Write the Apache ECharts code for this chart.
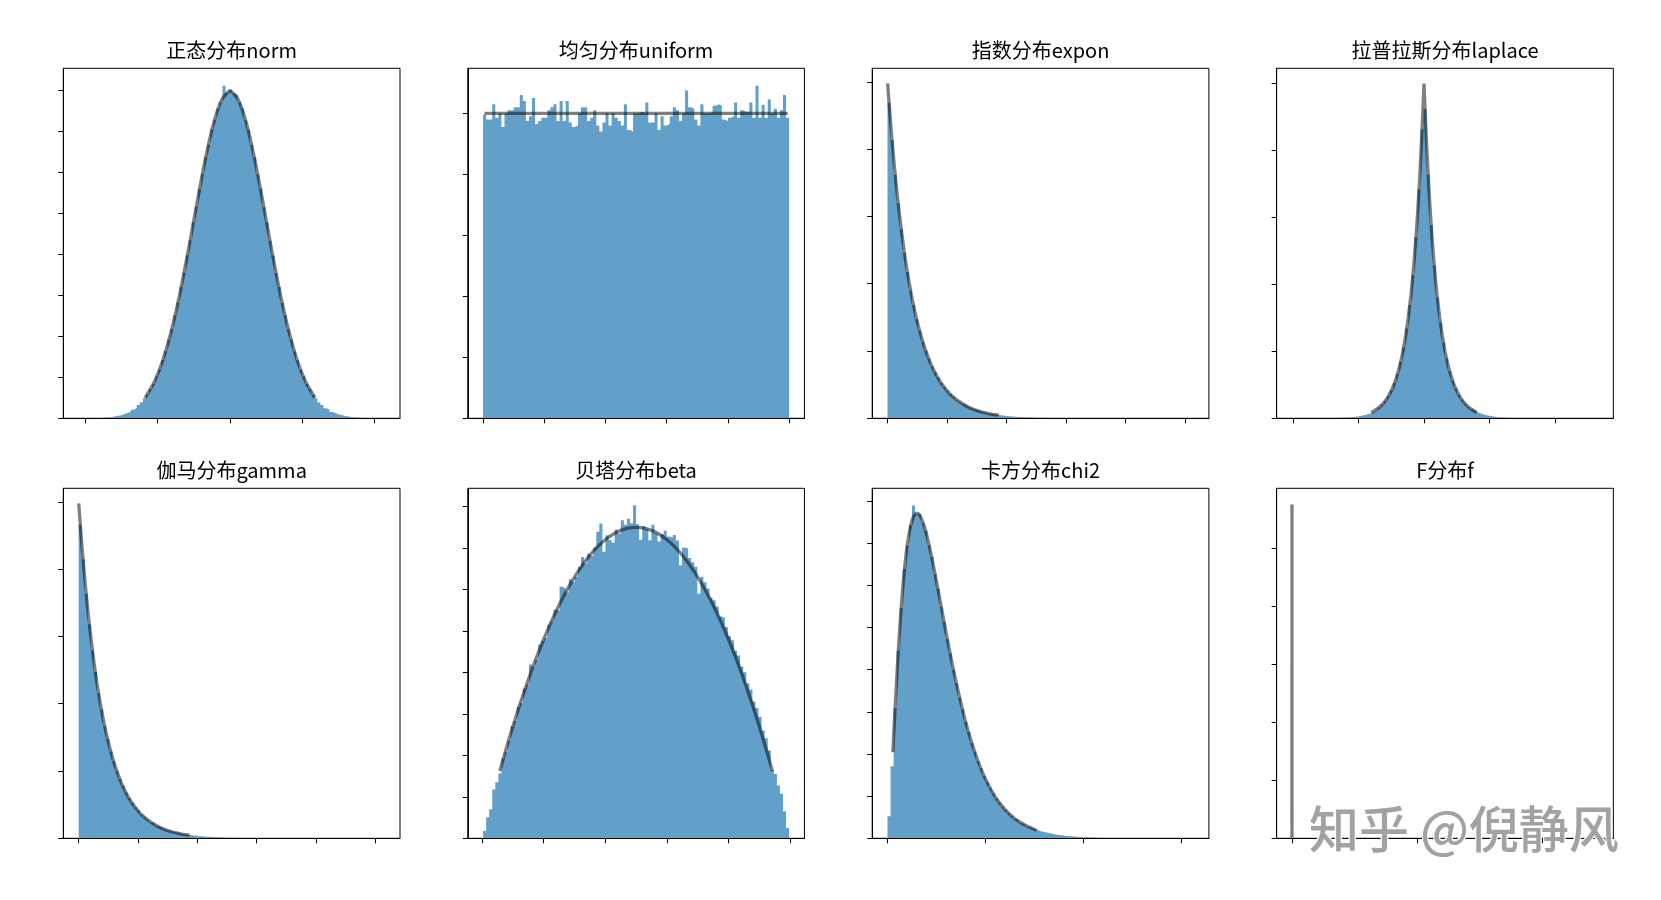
<!DOCTYPE html>
<html><head><meta charset="utf-8">
<script src="https://cdn.jsdelivr.net/npm/echarts@6.0.0/dist/echarts.min.js"></script>
<style>html,body{margin:0;padding:0;background:#fff}#chart{width:1661px;height:900px}</style>
</head><body><div id="chart"></div>
<script>
const titles = ['正态分布norm','均匀分布uniform','指数分布expon','拉普拉斯分布laplace','伽马分布gamma','贝塔分布beta','卡方分布chi2','F分布f'];
const watermark = '知乎 @倪静风';

// ---- 正态分布 norm ----
const normRange = [-4.19, 4.28];
const normXLim = [-4.6135, 4.7035];
const normYMax = 0.4268;
const normXTicks = [-4, -2, 0, 2, 4];
const normYTicks = [0, 0.05, 0.1, 0.15, 0.2, 0.25, 0.3, 0.35, 0.4];
const normHist = [
 0.0001,0.0001,0.0002,0.0002,0.0003,0.0004,0.0005,0.0007,0.001,0.0014,
 0.0017,0.0024,0.003,0.0038,0.0052,0.0064,0.0079,0.0105,0.0127,0.0161,
 0.0195,0.0244,0.0291,0.0358,0.0421,0.0511,0.0598,0.0712,0.0818,0.0958,
 0.1088,0.1258,0.1412,0.1601,0.1776,0.1987,0.2171,0.2392,0.2580,0.2797,
 0.2978,0.3185,0.3336,0.3521,0.3641,0.3779,0.3852,0.4055,0.3968,0.4012,
 0.3962,0.3945,0.3851,0.3779,0.3634,0.3518,0.3337,0.3182,0.2972,0.2798,
 0.2573,0.2391,0.2166,0.1985,0.1772,0.1601,0.1405,0.1258,0.1086,0.0960,
 0.0815,0.0709,0.0593,0.0511,0.0419,0.0357,0.0288,0.0244,0.0192,0.0162,
 0.0124,0.0103,0.0078,0.0065,0.0047,0.0039,0.0028,0.0024,0.0016,0.0013,
 0.0009,0.0008,0.0005,0.0004,0.0003,0.0002,0.0001,0.0001,0.0001,0.0001];
const normLineX = [-2.326,-2.093,-1.861,-1.628,-1.396,-1.163,-0.930,-0.698,-0.465,-0.233,0,0.233,0.465,0.698,0.930,1.163,1.396,1.628,1.861,2.093,2.326];
const normLineY = [0.0267,0.0446,0.0706,0.1060,0.1506,0.2028,0.2589,0.3127,0.3580,0.3882,0.3989,0.3882,0.3580,0.3127,0.2589,0.2028,0.1506,0.1060,0.0706,0.0446,0.0267];

// ---- 均匀分布 uniform ----
const unifRange = [0, 1];
const unifXLim = [-0.05, 1.05];
const unifYMax = 1.1475;
const unifXTicks = [0, 0.2, 0.4, 0.6, 0.8, 1.0];
const unifYTicks = [0, 0.2, 0.4, 0.6, 0.8, 1.0];
const unifHist = [
 0.995,0.98,0.98,1.03,0.985,1.0,0.955,1.0,1.01,1.01,
 1.02,1.02,1.06,1.04,0.975,0.99,1.05,0.965,0.975,0.985,
 0.985,1.01,1.02,1.03,0.975,1.04,0.975,1.04,0.97,0.955,
 0.96,1.0,1.02,1.02,0.975,0.985,1.01,0.96,0.94,0.97,
 1.0,0.96,1.0,0.985,0.975,0.96,1.03,0.945,0.94,1.0,
 1.0,1.005,1.0,1.035,0.97,0.97,1.0,0.945,0.99,0.96,
 0.965,0.99,1.02,1.01,0.975,1.0,1.075,1.02,1.015,0.98,
 0.96,1.03,1.0,1.0,1.005,1.025,1.03,1.025,0.98,0.975,
 0.985,0.99,1.035,0.985,1.01,1.005,1.005,1.035,0.985,1.09,
 0.985,1.028,0.985,1.045,1.0,1.015,0.985,1.01,1.06,0.985];
const unifLineX = [0.01, 0.99];
const unifLineY = [1.0, 1.0];

// ---- 指数分布 expon ----
const exponRange = [0, 12.85];
const exponXLim = [-0.6425, 13.4925];
const exponYMax = 1.04;
const exponXTicks = [0, 2.5, 5, 7.5, 10, 12.5];
const exponYTicks = [0, 0.2, 0.4, 0.6, 0.8, 1.0];
const exponHist = [
 0.938,0.826,0.724,0.639,0.562,0.492,0.435,0.380,0.336,0.294,
 0.260,0.227,0.201,0.177,0.154,0.137,0.121,0.105,0.093,0.082,
 0.072,0.064,0.055,0.049,0.043,0.038,0.033,0.029,0.026,0.023,
 0.020,0.0176,0.0153,0.0136,0.0118,0.0106,0.0091,0.0082,0.0070,0.0063,
 0.0055,0.0049,0.0042,0.0038,0.0034,0.0029,0.0025,0.0022,0.0020,0.0017,
 0.0015,0.0013,0.0012,0.0010,0.0009,0.0008,0.0007,0.0006,0.0006,0.0005,
 0.0004,0.0004,0.0003,0.0003,0.0003,0.0002,0.0002,0.0002,0.0001,0.0001,
 0.0001,0.0001,0.0001,0.0001,0,0.0001,0,0.0001,0,0,
 0,0,0.0001,0,0,0,0,0,0,0,
 0,0,0,0,0,0,0,0,0,0.0001];
const exponLineX = [0.01,0.1,0.2,0.3,0.4,0.5,0.6,0.7,0.8,0.9,1.0,1.1,1.2,1.3,1.4,1.5,1.65,1.8,1.95,2.1,2.25,2.4,2.55,2.7,2.85,3.0,3.2,3.4,3.6,3.8,4.0,4.2,4.4,4.605];
const exponLineY = [0.990,0.905,0.819,0.741,0.670,0.607,0.549,0.497,0.449,0.407,0.368,0.333,0.301,0.273,0.247,0.223,0.192,0.165,0.142,0.122,0.105,0.091,0.078,0.067,0.058,0.050,0.041,0.033,0.027,0.022,0.018,0.015,0.012,0.010];

// ---- 拉普拉斯分布 laplace ----
const lapRange = [-10.09, 13.3];
const lapXLim = [-11.259, 14.469];
const lapYMax = 0.5228;
const lapXTicks = [-10, -5, 0, 5, 10];
const lapYTicks = [0, 0.1, 0.2, 0.3, 0.4, 0.5];
const lapHist = [
 0.0001,0,0.0001,0,0.0001,0.0001,0.0001,0.0001,0.0002,0.0002,
 0.0003,0.0003,0.0004,0.0005,0.0006,0.0008,0.0010,0.0012,0.0016,0.0020,
 0.0025,0.0032,0.0040,0.0051,0.0064,0.0081,0.0102,0.0129,0.0163,0.0206,
 0.0261,0.0329,0.0416,0.0526,0.0665,0.0840,0.1061,0.1341,0.1694,0.2141,
 0.2705,0.3418,0.4319,0.4620,0.3643,0.2883,0.2282,0.1806,0.1429,0.1131,
 0.0895,0.0708,0.0561,0.0444,0.0351,0.0278,0.0220,0.0174,0.0138,0.0109,
 0.0086,0.0068,0.0054,0.0043,0.0034,0.0027,0.0021,0.0017,0.0013,0.0011,
 0.0008,0.0007,0.0005,0.0004,0.0003,0.0003,0.0002,0.0002,0.0001,0.0001,
 0.0001,0.0001,0,0.0001,0,0,0.0001,0,0,0,
 0,0,0,0,0,0,0,0,0,0.0001];
const lapLineX = [-3.912,-3.5,-3.25,-3.0,-2.75,-2.5,-2.25,-2.0,-1.8,-1.6,-1.4,-1.2,-1.0,-0.9,-0.75,-0.6,-0.5,-0.4,-0.3,-0.2,-0.1,0,0.1,0.2,0.3,0.4,0.5,0.6,0.75,0.9,1.0,1.2,1.4,1.6,1.8,2.0,2.25,2.5,2.75,3.0,3.25,3.5,3.912];
const lapLineY = [0.0100,0.0151,0.0194,0.0249,0.0320,0.0410,0.0527,0.0677,0.0826,0.1009,0.1233,0.1506,0.1839,0.2033,0.2362,0.2744,0.3033,0.3352,0.3704,0.4094,0.4524,0.5,0.4524,0.4094,0.3704,0.3352,0.3033,0.2744,0.2362,0.2033,0.1839,0.1506,0.1233,0.1009,0.0826,0.0677,0.0527,0.0410,0.0320,0.0249,0.0194,0.0151,0.0100];

// ---- 伽马分布 gamma ----
const gamRange = [0, 12.9];
const gamXLim = [-0.645, 13.545];
const gamYMax = 1.04;
const gamXTicks = [0, 2.5, 5, 7.5, 10, 12.5];
const gamYTicks = [0, 0.2, 0.4, 0.6, 0.8, 1.0];
const gamHist = [
 0.932,0.829,0.727,0.636,0.559,0.495,0.432,0.383,0.334,0.296,
 0.258,0.229,0.200,0.176,0.156,0.136,0.120,0.106,0.092,0.083,
 0.071,0.063,0.056,0.048,0.043,0.037,0.034,0.029,0.025,0.023,
 0.0198,0.0177,0.0155,0.0134,0.0120,0.0104,0.0093,0.0080,0.0072,0.0062,
 0.0056,0.0048,0.0043,0.0037,0.0033,0.0030,0.0026,0.0023,0.0019,0.0017,
 0.0015,0.0014,0.0011,0.0010,0.0009,0.0008,0.0007,0.0006,0.0005,0.0005,
 0.0004,0.0004,0.0003,0.0003,0.0002,0.0002,0.0002,0.0001,0.0002,0.0001,
 0.0001,0.0001,0,0.0001,0.0001,0,0,0,0.0001,0,
 0,0,0,0,0,0.0001,0,0,0,0,
 0,0,0,0,0,0,0,0,0,0.0001];
const gamLineX = [0.01,0.1,0.2,0.3,0.4,0.5,0.6,0.7,0.8,0.9,1.0,1.1,1.2,1.3,1.4,1.5,1.65,1.8,1.95,2.1,2.25,2.4,2.55,2.7,2.85,3.0,3.2,3.4,3.6,3.8,4.0,4.2,4.4,4.605];
const gamLineY = [0.990,0.905,0.819,0.741,0.670,0.607,0.549,0.497,0.449,0.407,0.368,0.333,0.301,0.273,0.247,0.223,0.192,0.165,0.142,0.122,0.105,0.091,0.078,0.067,0.058,0.050,0.041,0.033,0.027,0.022,0.018,0.015,0.012,0.010];

// ---- 贝塔分布 beta ----
const betaRange = [0.003, 0.997];
const betaXLim = [-0.0467, 1.0467];
const betaYMax = 1.688;
const betaXTicks = [0, 0.2, 0.4, 0.6, 0.8, 1.0];
const betaYTicks = [0, 0.2, 0.4, 0.6, 0.8, 1.0, 1.2, 1.4, 1.6];
const betaHist = [
 0.035,0.102,0.140,0.235,0.270,0.312,0.385,0.418,0.470,0.541,
 0.566,0.634,0.652,0.722,0.741,0.838,0.826,0.861,0.935,0.951,
 0.966,1.031,1.045,1.102,1.098,1.213,1.205,1.185,1.248,1.236,
 1.262,1.310,1.357,1.325,1.372,1.361,1.404,1.478,1.518,1.382,
 1.462,1.439,1.425,1.488,1.470,1.534,1.512,1.541,1.520,1.606,
 1.515,1.440,1.506,1.492,1.438,1.512,1.470,1.432,1.468,1.483,
 1.455,1.452,1.463,1.436,1.317,1.402,1.398,1.352,1.331,1.310,
 1.180,1.262,1.235,1.205,1.160,1.148,1.118,1.070,1.062,1.019,
 0.975,0.955,0.905,0.882,0.829,0.801,0.748,0.718,0.660,0.628,
 0.586,0.520,0.482,0.425,0.330,0.310,0.255,0.215,0.130,0.050];
const betaLineX = [0.0589,0.08,0.1,0.125,0.15,0.175,0.2,0.225,0.25,0.275,0.3,0.325,0.35,0.375,0.4,0.425,0.45,0.475,0.5,0.525,0.55,0.575,0.6,0.625,0.65,0.675,0.7,0.725,0.75,0.775,0.8,0.825,0.85,0.875,0.9,0.92,0.9411];
const betaLineY = [0.3326,0.4416,0.54,0.6563,0.765,0.8663,0.96,1.0463,1.125,1.1963,1.26,1.3163,1.365,1.4063,1.44,1.4663,1.485,1.4963,1.5,1.4963,1.485,1.4663,1.44,1.4063,1.365,1.3163,1.26,1.1963,1.125,1.0463,0.96,0.8663,0.765,0.6563,0.54,0.4416,0.3326];

// ---- 卡方分布 chi2 ----
const chiRange = [0, 31.3];
const chiXLim = [-1.565, 32.865];
const chiYMax = 0.166;
const chiXTicks = [0, 10, 20, 30];
const chiYTicks = [0, 0.02, 0.04, 0.06, 0.08, 0.1, 0.12, 0.14, 0.16];
const chiHist = [
 0.0105,0.0342,0.0618,0.0889,0.1093,0.1278,0.1389,0.1486,0.1578,0.1538,
 0.1535,0.1497,0.1459,0.1391,0.1334,0.1252,0.1183,0.1098,0.1027,0.0945,
 0.0876,0.0799,0.0736,0.0668,0.0612,0.0552,0.0504,0.0452,0.0411,0.0367,
 0.0332,0.0297,0.0268,0.0237,0.0214,0.0189,0.0170,0.0150,0.0136,0.0119,
 0.0107,0.0093,0.0084,0.0073,0.0066,0.0056,0.0052,0.0044,0.0040,0.0034,
 0.0031,0.0027,0.0024,0.0021,0.0018,0.0016,0.0014,0.0012,0.0011,0.0010,
 0.0008,0.0007,0.0006,0.0006,0.0005,0.0004,0.0004,0.0003,0.0003,0.0002,
 0.0002,0.0002,0.0001,0.0001,0.0001,0.0001,0.0001,0,0.0001,0,
 0,0,0,0,0,0,0.0001,0,0,0,
 0,0,0,0,0,0,0,0,0,0.0001];
const chiLineX = [0.554,0.7,0.85,1.0,1.15,1.3,1.45,1.6,1.8,2.0,2.25,2.5,2.75,3.0,3.25,3.5,3.75,4.0,4.5,5.0,5.5,6.0,6.5,7.0,7.5,8.0,8.5,9.0,9.5,10.0,11.0,12.0,13.0,14.0,15.086];
const chiLineY = [0.0416,0.0550,0.0680,0.0807,0.0924,0.1029,0.1124,0.1209,0.1305,0.1384,0.1456,0.1506,0.1533,0.1542,0.1535,0.1513,0.1481,0.1440,0.1338,0.1220,0.1097,0.0973,0.0855,0.0744,0.0644,0.0551,0.0470,0.0399,0.0337,0.0283,0.0198,0.0137,0.0094,0.0064,0.0041];

// ---- F分布 f ----
const fRange = [0, 97800];
const fXLim = [-4890, 102690];
const fYMax = 0.6027;
const fXTicks = [0, 20000, 40000, 60000, 80000, 100000];
const fYTicks = [0, 0.1, 0.2, 0.3, 0.4, 0.5];
const fHist = [
 0.00101,0,0,0,0,0,0,0,0,0,
 0,0,0,0,0,0,0,0,0,0,
 0,0,0,0,0,0,0,0,0,0,
 0,0,0,0,0,0,0,0,0,0,
 0,0,0,0,0,0,0,0,0,0,
 0,0,0,0,0,0,0,0,0,0,
 0,0,0,0,0,0,0,0,0,0,
 0,0,0,0,0,0,0,0,0,0,
 0,0,0,0,0,0,0,0,0,0,
 0,0,0,0,0,0,0,0,0,0];
const fLineX = [0.27,0.4,0.55,0.7,0.85,1.0,1.3,1.7,2.2,3.0,4.5,7.0,12.0];
const fLineY = [0.03,0.22,0.45,0.56,0.575,0.54,0.43,0.30,0.19,0.10,0.04,0.013,0.004];

const panels = [
 {hist: normHist, range: normRange, lx: normLineX, ly: normLineY, xlim: normXLim, ymax: normYMax, xt: normXTicks, yt: normYTicks, smooth: true},
 {hist: unifHist, range: unifRange, lx: unifLineX, ly: unifLineY, xlim: unifXLim, ymax: unifYMax, xt: unifXTicks, yt: unifYTicks, smooth: false},
 {hist: exponHist, range: exponRange, lx: exponLineX, ly: exponLineY, xlim: exponXLim, ymax: exponYMax, xt: exponXTicks, yt: exponYTicks, smooth: true},
 {hist: lapHist, range: lapRange, lx: lapLineX, ly: lapLineY, xlim: lapXLim, ymax: lapYMax, xt: lapXTicks, yt: lapYTicks, smooth: false},
 {hist: gamHist, range: gamRange, lx: gamLineX, ly: gamLineY, xlim: gamXLim, ymax: gamYMax, xt: gamXTicks, yt: gamYTicks, smooth: true},
 {hist: betaHist, range: betaRange, lx: betaLineX, ly: betaLineY, xlim: betaXLim, ymax: betaYMax, xt: betaXTicks, yt: betaYTicks, smooth: true},
 {hist: chiHist, range: chiRange, lx: chiLineX, ly: chiLineY, xlim: chiXLim, ymax: chiYMax, xt: chiXTicks, yt: chiYTicks, smooth: true},
 {hist: fHist, range: fRange, lx: fLineX, ly: fLineY, xlim: fXLim, ymax: fYMax, xt: fXTicks, yt: fYTicks, smooth: false}
];

const G = {left0: 63.3, colStep: 404.45, tops: [68.3, 488.3], w: 336.7, h: 350};
const BAR = '#62a0ca';

const grids = [], xAxes = [], yAxes = [], series = [], graphics = [];
panels.forEach((p, k) => {
  const c = k % 4, r = Math.floor(k / 4);
  const left = G.left0 + G.colStep * c, top = G.tops[r];
  grids.push({left: left, top: top, width: G.w, height: G.h, show: true, borderColor: '#000', borderWidth: 1,
    backgroundColor: 'transparent', containLabel: false, outerBoundsMode: 'none'});
  const tickStyle = {show: true, inside: false, length: 5, lineStyle: {color: '#000', width: 1}};
  xAxes.push({gridIndex: k, type: 'value', min: p.xlim[0], max: p.xlim[1], z: 10,
    axisLine: {show: true, onZero: false, lineStyle: {color: '#000', width: 1}},
    axisTick: Object.assign({customValues: p.xt}, tickStyle),
    axisLabel: {show: false}, splitLine: {show: false}});
  yAxes.push({gridIndex: k, type: 'value', min: 0, max: p.ymax, z: 10,
    axisLine: {show: true, onZero: false, lineStyle: {color: '#000', width: 1}},
    axisTick: Object.assign({customValues: p.yt}, tickStyle),
    axisLabel: {show: false}, splitLine: {show: false}});
  const n = p.hist.length, bw = (p.range[1] - p.range[0]) / n;
  const stepData = p.hist.map((v, i) => [p.range[0] + i * bw, v]);
  stepData.push([p.range[1], p.hist[n - 1]]);
  series.push({type: 'line', xAxisIndex: k, yAxisIndex: k, data: stepData, step: 'end', symbol: 'none',
    silent: true, z: 2, lineStyle: {width: 0, opacity: 0}, areaStyle: {color: BAR, opacity: 1}});
  series.push({type: 'line', xAxisIndex: k, yAxisIndex: k, data: p.lx.map((x, i) => [x, p.ly[i]]),
    symbol: 'none', silent: true, z: 3, smooth: p.smooth ? 0.25 : false,
    lineStyle: {color: '#000', width: 3.3, opacity: 0.5, cap: 'square'}});
  graphics.push({type: 'text', x: left + G.w / 2, y: top - 17.5, z: 20,
    style: {text: titles[k], fill: '#000', font: '20px "Noto Sans CJK SC", sans-serif', textAlign: 'center', textVerticalAlign: 'middle'}});
});
graphics.push({type: 'text', x: 1309, y: 829, z: 100,
  style: {text: watermark, fill: '#a2a2a2', stroke: '#ffffff', lineWidth: 2.5,
    font: '500 50px "Noto Sans CJK SC", sans-serif', textAlign: 'left', textVerticalAlign: 'middle'}});

const chart = echarts.init(document.getElementById('chart'), null, {renderer: 'canvas'});
chart.setOption({
  animation: false,
  backgroundColor: '#ffffff',
  grid: grids, xAxis: xAxes, yAxis: yAxes, series: series,
  graphic: graphics
});
</script></body></html>
